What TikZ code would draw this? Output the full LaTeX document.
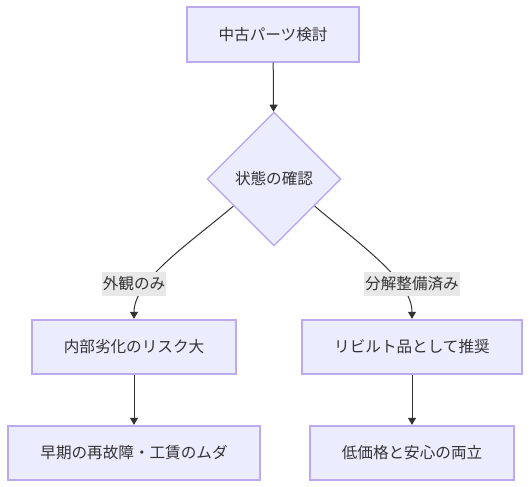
\documentclass[tikz,border=0pt]{standalone}
\usepackage{fontspec}
\setmainfont{Noto Sans CJK JP}
\usetikzlibrary{shapes.geometric,arrows.meta,calc}
\definecolor{nodefill}{HTML}{ECECFF}
\definecolor{nodeline}{HTML}{BCA9EE}
\definecolor{edgecol}{HTML}{333333}
\definecolor{txtcol}{HTML}{333333}
\definecolor{lblbg}{HTML}{E8E8E8}
\tikzset{
  box/.style={draw=nodeline, fill=nodefill, line width=1.3pt, rectangle, inner sep=0pt,
    minimum height=41pt, text=txtcol, font=\fontsize{11.7pt}{14pt}\selectfont},
  decision/.style={draw=nodeline, fill=nodefill, line width=1.1pt, diamond, inner sep=0pt,
    minimum width=100.5pt, minimum height=100.5pt, text=txtcol, font=\fontsize{11.7pt}{14pt}\selectfont},
  elabel/.style={fill=lblbg, inner sep=0pt, minimum height=18pt, text=txtcol,
    font=\fontsize{11.7pt}{14pt}\selectfont},
  conn/.style={draw=edgecol, line width=0.75pt, -{Triangle[length=5.25pt,width=6pt]}},
}
\begin{document}
\begin{tikzpicture}[x=0.75pt,y=-0.75pt]
\fill[white] (0,0) rectangle (530,486);
\useasboundingbox (0,0) rectangle (530,486);
\node[box, minimum width=129.5pt] (top) at (273,34.5) {中古パーツ検討};
\node[decision] (d) at (274,179) {状態の確認};
\node[box, minimum width=153pt] (b1) at (134,347) {内部劣化のリスク大};
\node[box, minimum width=165pt] (b2) at (412,347) {リビルト品として推奨};
\node[box, minimum width=188.6pt, minimum height=40.5pt] (b3) at (134,452.7) {早期の再故障・工賃のムダ};
\node[box, minimum width=153pt, minimum height=40.5pt] (b4) at (412,452.7) {低価格と安心の両立};
\draw[conn] (top) -- (d);
\draw[conn] ($(d.west)!0.4!(d.south)$) .. controls (190,243) and (134,280) .. (b1.north);
\draw[conn] ($(d.east)!0.4!(d.south)$) .. controls (358,243) and (412,280) .. (b2.north);
\draw[conn] (b1) -- (b3);
\draw[conn] (b2) -- (b4);
\node[elabel, minimum width=48pt] (l1) at (134,284) {外観のみ};
\node[elabel, minimum width=72pt] (l2) at (412,284) {分解整備済み};
\end{tikzpicture}
\end{document}
